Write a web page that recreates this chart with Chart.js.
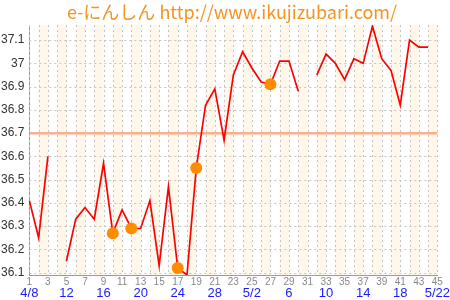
<!DOCTYPE html>
<html>
<head>
<meta charset="utf-8">
<script src="https://cdn.jsdelivr.net/npm/chart.js@4"></script>
<style>
  html, body { margin: 0; padding: 0; background: #fff; }
  #wrap { width: 450px; height: 300px; }
</style>
</head>
<body>
<div id="wrap"><canvas id="myChart"></canvas></div>
<script>
// cycle days 1..45
const days = ['1','2','3','4','5','6','7','8','9','10','11','12','13','14','15','16','17','18','19','20','21','22','23','24','25','26','27','28','29','30','31','32','33','34','35','36','37','38','39','40','41','42','43','44','45']

// basal body temperature, null = not measured
const temps = [36.41, 36.25, 36.60, null, 36.15, 36.33, 36.38, 36.33, 36.57, 36.27,
               36.37, 36.29, 36.29, 36.41, 36.13, 36.47, 36.12, 36.09, 36.55, 36.82,
               36.89, 36.67, 36.95, 37.05, 36.98, 36.92, 36.91, 37.01, 37.01, 36.88,
               null, 36.95, 37.04, 37.00, 36.93, 37.02, 37.00, 37.16, 37.02, 36.97,
               36.82, 37.10, 37.07, 37.07, null]

// days with an orange mark
const markDays = [10, 12, 17, 19, 27]

// calendar date under every 4th cycle day
const dateTicks = ['4/8','12','16','20','24','28','5/2','6','10','14','18','5/22']

const yTickLabels = [36.1, 36.2, 36.3, 36.4, 36.5, 36.6, 36.7, 36.8, 36.9, 37.0, 37.1]
const coverLine = 36.7

const marks = days.map((d, i) => markDays.includes(i + 1) ? temps[i] : null)
const dateLabels = days.map((d, i) => i % 4 === 0 ? dateTicks[i / 4] : '')

const FONT = 'Liberation Sans, Arial, sans-serif'

const bandsPlugin = {
  id: 'bands',
  afterLayout(chart) {
    // title sits a little right of the canvas centre
    chart.titleBlock.left = 24
  },
  beforeDatasetsDraw(chart) {
    const {ctx, chartArea, scales} = chart
    const x = scales.x, y = scales.y
    ctx.save()
    // beige column between day 2k and 2k+1
    ctx.fillStyle = '#fff7ea'
    for (let i = 1; i + 1 < days.length; i += 2) {
      const x0 = x.getPixelForValue(i)
      const x1 = x.getPixelForValue(i + 1)
      ctx.fillRect(x0, chartArea.top, x1 - x0, chartArea.bottom - chartArea.top)
    }
    // cover line
    const yy = y.getPixelForValue(coverLine)
    ctx.strokeStyle = 'rgba(255,130,80,0.65)'
    ctx.lineWidth = 2.5
    ctx.beginPath()
    ctx.moveTo(chartArea.left, yy)
    ctx.lineTo(chartArea.right, yy)
    ctx.stroke()
    ctx.restore()
  }
}

// draw grid again over the bands
const gridPlugin = {
  id: 'gridOver',
  beforeDatasetsDraw(chart) {
    const {ctx, chartArea, scales} = chart
    ctx.save()
    ctx.strokeStyle = '#c4c4c4'
    ctx.lineWidth = 1
    ctx.setLineDash([2, 3])
    scales.x.ticks.forEach((t, i) => {
      const px = Math.round(scales.x.getPixelForTick(i)) + 0.5
      ctx.beginPath(); ctx.moveTo(px, chartArea.top); ctx.lineTo(px, chartArea.bottom); ctx.stroke()
    })
    scales.y.ticks.forEach((t, i) => {
      const py = Math.round(scales.y.getPixelForTick(i)) + 0.5
      ctx.beginPath(); ctx.moveTo(chartArea.left, py); ctx.lineTo(chartArea.right, py); ctx.stroke()
    })
    ctx.restore()
  }
}

const ctx = document.getElementById('myChart')

const chart = new Chart(ctx, {
  type: 'line',
  data: {
    labels: days,
    datasets: [{
      label: 'mark',
      data: marks,
      showLine: false,
      pointRadius: 6,
      pointHoverRadius: 6,
      pointBackgroundColor: '#ff8c00',
      pointBorderColor: '#ff8c00',
      pointBorderWidth: 0,
      order: 0
    }, {
      label: 'temp',
      data: temps,
      borderColor: '#ff0000',
      borderWidth: 1.7,
      pointRadius: 0,
      tension: 0,
      spanGaps: false,
      fill: false,
      order: 1
    }]
  },
  options: {
    responsive: true,
    maintainAspectRatio: false,
    animation: false,
    layout: { padding: { left: 0, right: 10, top: 0, bottom: 0 } },
    plugins: {
      legend: { display: false },
      tooltip: { enabled: false },
      title: {
        display: true,
        text: 'e-にんしん http://www.ikujizubari.com/',
        color: '#f7921e',
        font: { family: 'Noto Sans CJK JP, sans-serif', size: 18, weight: 'normal', lineHeight: 1 },
        padding: { top: 3, bottom: 4 }
      }
    },
    scales: {
      x: {
        type: 'category',
        offset: false,
        grid: { display: false, drawTicks: true, tickLength: 2 },
        border: { display: true, color: '#999' },
        ticks: {
          autoSkip: false, maxRotation: 0, padding: 0, color: '#888',
          font: { family: FONT, size: 10, lineHeight: 1 },
          callback: (v, i) => (i % 2 === 0 ? days[i] : '')
        }
      },
      x2: {
        type: 'category',
        labels: dateLabels,
        position: 'bottom',
        offset: false,
        grid: { display: false, drawTicks: false },
        border: { display: false },
        ticks: {
          autoSkip: false, maxRotation: 0, padding: 0, color: '#1a1aff',
          font: { family: FONT, size: 13, lineHeight: 1 }
        }
      },
      y: {
        min: 36.09,
        max: 37.165,
        grid: { display: false, drawTicks: true, tickLength: 4 },
        border: { display: true, color: '#999' },
        afterBuildTicks(scale) {
          const vals = []
          yTickLabels.forEach((v, i) => {
            vals.push(v)
            if (i < yTickLabels.length - 1) {
              vals.push(v + 0.1 / 3, v + 0.2 / 3)
            } else {
              vals.push(v + 0.1 / 3)
            }
          })
          scale.ticks = vals.map(v => ({ value: v }))
        },
        ticks: {
          padding: 1, color: '#333',
          font: { family: FONT, size: 12 },
          callback: (v) => {
            const hit = yTickLabels.find(t => Math.abs(t - v) < 1e-6)
            return hit === undefined ? '' : String(+hit.toFixed(1))
          }
        }
      }
    }
  },
  plugins: [bandsPlugin, gridPlugin]
})
</script>
</body>
</html>
